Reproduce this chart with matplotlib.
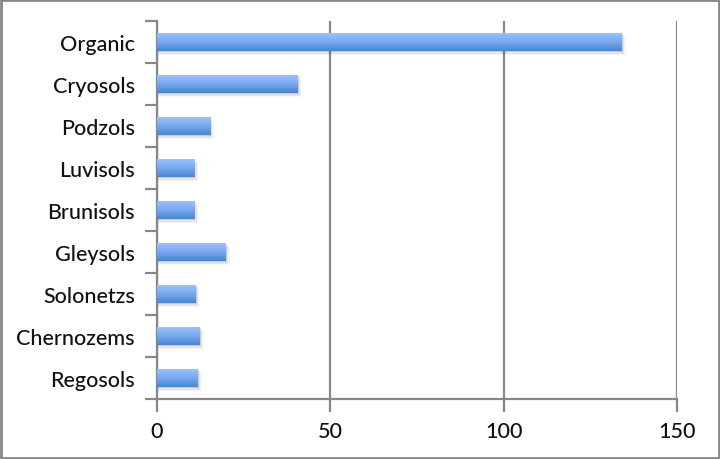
import numpy as np
import matplotlib.pyplot as plt
from matplotlib.patches import Rectangle
from matplotlib.colors import LinearSegmentedColormap

categories = ["Organic", "Cryosols", "Podzols", "Luvisols", "Brunisols",
              "Gleysols", "Solonetzs", "Chernozems", "Regosols"]
values = [134.1, 40.6, 15.3, 10.7, 10.7, 19.9, 11.2, 12.4, 11.8]
xticks = [0, 50, 100, 150]

plt.rcParams['font.family'] = ['Lato', 'DejaVu Sans']
grey = '#878787'

fig = plt.figure(figsize=(7.2, 4.6), dpi=100)
ax = fig.add_axes([157 / 720, 60 / 460, 520 / 720, 378 / 460])

n = len(categories)
ypos = np.arange(n)[::-1]
h = 0.43
cmap = LinearSegmentedColormap.from_list('bar', ['#4a84d0', '#7aaaf0', '#9fc4fa'])
grad = np.linspace(0, 1, 64).reshape(-1, 1)

for y, v in zip(ypos, values):
    # soft shadow
    for k, a in enumerate([0.10, 0.07, 0.04]):
        d = 0.03 * (k + 1)
        ax.add_patch(Rectangle((0, y - h / 2 - d), v + 0.35 * (k + 1), h,
                               facecolor='black', alpha=a, lw=0, zorder=2))
    bar = ax.barh(y, v, height=h, color='none', lw=0, zorder=3)[0]
    im = ax.imshow(grad, cmap=cmap, aspect='auto', origin='lower',
                   extent=[0, v, y - h / 2, y + h / 2], zorder=3)
    im.set_clip_path(bar)

ax.set_xlim(0, 150)
ax.set_ylim(-0.5, n - 0.5)
ax.set_xticks(xticks)
ax.set_xticklabels([str(t) for t in xticks])
ax.set_yticks(ypos)
ax.set_yticklabels(categories)
ax.set_yticks(np.arange(-0.5, n, 1), minor=True)
ax.tick_params(axis='y', which='major', length=0, pad=16, labelsize=15.5)
ax.tick_params(axis='y', which='minor', length=9, width=1.6, color=grey, direction='out')
ax.tick_params(axis='x', length=9, width=1.6, color=grey, direction='out', pad=7, labelsize=15.5)
for lab in ax.get_xticklabels() + ax.get_yticklabels():
    lab.set_fontweight('medium')
    lab.set_color('#111111')

ax.grid(axis='x', color=grey, lw=1.6, zorder=1)
ax.set_axisbelow(True)
for s in ['top', 'right']:
    ax.spines[s].set_visible(False)
for s in ['left', 'bottom']:
    ax.spines[s].set_color(grey)
    ax.spines[s].set_linewidth(1.6)

fig.patches.append(Rectangle((0.001, 0.002), 0.997, 0.995, transform=fig.transFigure,
                             fill=False, edgecolor=grey, lw=2))

fig.savefig('out.png', dpi=100)
